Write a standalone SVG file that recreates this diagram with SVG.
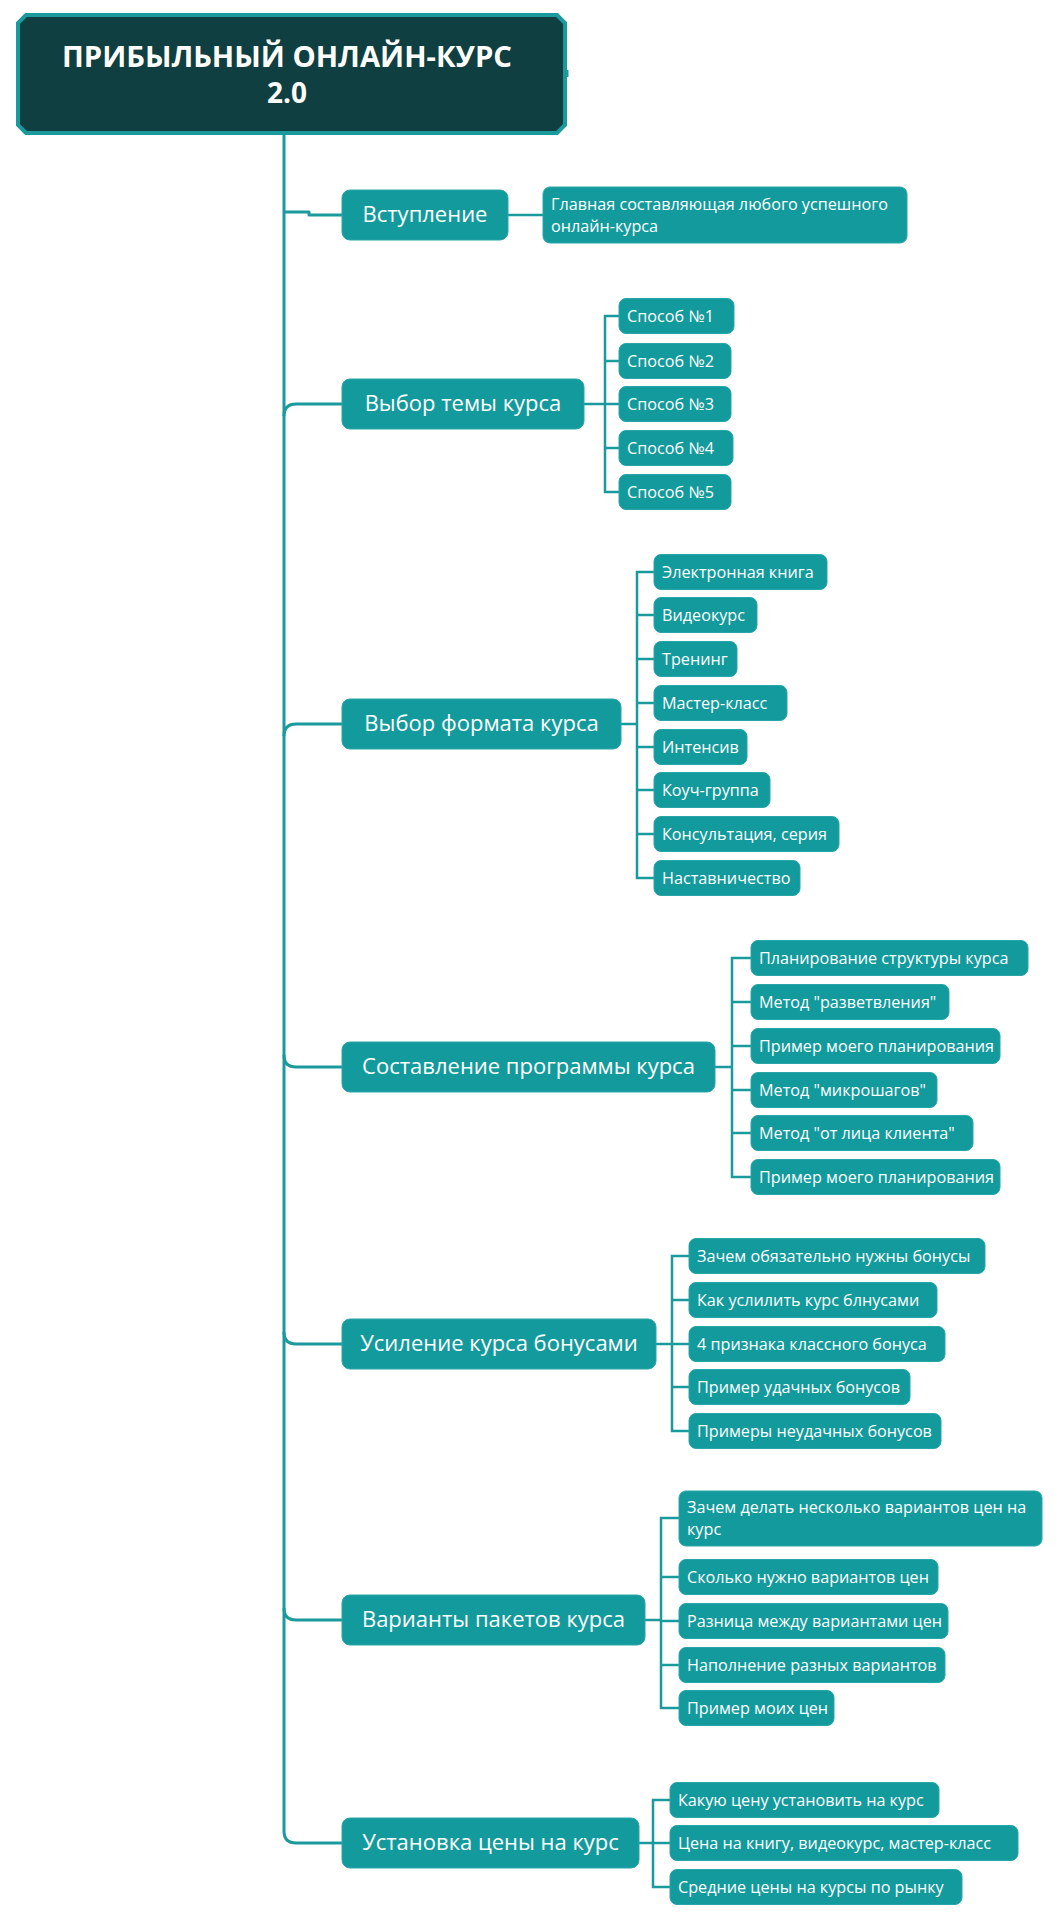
<svg xmlns="http://www.w3.org/2000/svg" width="1058" height="1920" viewBox="0 0 1058 1920">
<style>
.bg{fill:#ffffff}
.title{fill:#0f3f41;stroke:#1a9a9c;stroke-width:4}
.tt{font-family:"Open Sans","Liberation Sans",sans-serif;font-weight:700;font-size:28px;fill:#ffffff;text-anchor:middle}
.b1{fill:#139a9d;stroke:#2aa6a8;stroke-width:1}
.b2{fill:#139a9d;stroke:#2aa6a8;stroke-width:1}
.t1{font-family:"Open Sans","Liberation Sans",sans-serif;font-size:22px;font-weight:500;fill:#ffffff;text-anchor:middle}
.t2{font-family:"Open Sans","Liberation Sans",sans-serif;font-size:16.2px;font-weight:500;fill:#ffffff}
.spine{fill:none;stroke:#1a9a9c;stroke-width:3;stroke-linejoin:round}
.sub{fill:none;stroke:#1a9a9c;stroke-width:2.5;stroke-linejoin:miter}
</style>
<rect class="bg" x="0" y="0" width="1058" height="1920"/>

<g id="connectors">
  <path class="spine" d="M284,133 V1831 Q284,1843 296,1843 H342"/>
  <path class="spine" d="M284,212 H309 V215 H342"/>
  <path class="spine" d="M284,416 Q284,404 296,404 H342"/>
  <path class="spine" d="M284,736 Q284,724 296,724 H342"/>
  <path class="spine" d="M284,1055 Q284,1067 296,1067 H342"/>
  <path class="spine" d="M284,1332 Q284,1344 296,1344 H342"/>
  <path class="spine" d="M284,1608 Q284,1620 296,1620 H342"/>
  <path class="sub" d="M508,215 H543"/>
  <path class="sub" d="M584,404 H605 M619,316 H605 V492 H619 M605,361 H619 M605,404 H619 M605,448 H619"/>
  <path class="sub" d="M621,724 H637 M654,572 H637 V878 H654 M637,615 H654 M637,659 H654 M637,703 H654 M637,747 H654 M637,790 H654 M637,834 H654"/>
  <path class="sub" d="M715,1067 H732 M751,958 H732 V1177 H751 M732,1002 H751 M732,1046 H751 M732,1090 H751 M732,1133 H751"/>
  <path class="sub" d="M656,1344 H672 M689,1256 H672 V1431 H689 M672,1300 H689 M672,1344 H689 M672,1387 H689"/>
  <path class="sub" d="M645,1620 H661 M679,1518 H661 V1708 H679 M661,1577 H679 M661,1621 H679 M661,1665 H679"/>
  <path class="sub" d="M639,1843 H653 M670,1800 H653 V1887 H670 M653,1843 H670"/>
</g>

<g id="root">
  <path class="title" d="M26,15 H557 L565,23 V125 L557,133 H26 L18,125 V23 Z"/>
  <path d="M567,70 V77" stroke="#1a9a9c" stroke-width="3"/>
  <text class="tt" x="287" y="67" textLength="450" lengthAdjust="spacingAndGlyphs">ПРИБЫЛЬНЫЙ ОНЛАЙН-КУРС</text>
  <text class="tt" x="287" y="103">2.0</text>
</g>

<g id="n1">
  <rect class="b1" x="342" y="190" width="166" height="50" rx="8"/>
  <text class="t1" x="425" y="222">Вступление</text>
</g>
<g id="n1-1">
  <rect class="b2" x="543" y="187" width="364" height="56" rx="7"/>
  <text class="t2" x="551" y="210">Главная составляющая любого успешного</text>
  <text class="t2" x="551" y="232">онлайн-курса</text>
</g>

<g id="n2">
  <rect class="b1" x="342" y="379" width="242" height="50" rx="8"/>
  <text class="t1" x="463" y="411">Выбор темы курса</text>
</g>
<g id="n2-1"><rect class="b2" x="619" y="298.5" width="115" height="35" rx="7"/><text class="t2" x="627" y="322">Способ №1</text></g>
<g id="n2-2"><rect class="b2" x="619" y="343.5" width="112" height="35" rx="7"/><text class="t2" x="627" y="367">Способ №2</text></g>
<g id="n2-3"><rect class="b2" x="619" y="386.5" width="112" height="35" rx="7"/><text class="t2" x="627" y="410">Способ №3</text></g>
<g id="n2-4"><rect class="b2" x="619" y="430.5" width="114" height="35" rx="7"/><text class="t2" x="627" y="454">Способ №4</text></g>
<g id="n2-5"><rect class="b2" x="619" y="474.5" width="112" height="35" rx="7"/><text class="t2" x="627" y="498">Способ №5</text></g>

<g id="n3">
  <rect class="b1" x="342" y="699" width="279" height="50" rx="8"/>
  <text class="t1" x="481.5" y="731">Выбор формата курса</text>
</g>
<g id="n3-1"><rect class="b2" x="654" y="554.5" width="173" height="35" rx="7"/><text class="t2" x="662" y="578">Электронная книга</text></g>
<g id="n3-2"><rect class="b2" x="654" y="597.5" width="103" height="35" rx="7"/><text class="t2" x="662" y="621">Видеокурс</text></g>
<g id="n3-3"><rect class="b2" x="654" y="641.5" width="83" height="35" rx="7"/><text class="t2" x="662" y="665">Тренинг</text></g>
<g id="n3-4"><rect class="b2" x="654" y="685.5" width="133" height="35" rx="7"/><text class="t2" x="662" y="709">Мастер-класс</text></g>
<g id="n3-5"><rect class="b2" x="654" y="729.5" width="93" height="35" rx="7"/><text class="t2" x="662" y="753">Интенсив</text></g>
<g id="n3-6"><rect class="b2" x="654" y="772.5" width="116" height="35" rx="7"/><text class="t2" x="662" y="796">Коуч-группа</text></g>
<g id="n3-7"><rect class="b2" x="654" y="816.5" width="185" height="35" rx="7"/><text class="t2" x="662" y="840">Консультация, серия</text></g>
<g id="n3-8"><rect class="b2" x="654" y="860.5" width="146" height="35" rx="7"/><text class="t2" x="662" y="884">Наставничество</text></g>

<g id="n4">
  <rect class="b1" x="342" y="1042" width="373" height="50" rx="8"/>
  <text class="t1" x="528.5" y="1074">Составление программы курса</text>
</g>
<g id="n4-1"><rect class="b2" x="751" y="940.5" width="277" height="35" rx="7"/><text class="t2" x="759" y="964">Планирование структуры курса</text></g>
<g id="n4-2"><rect class="b2" x="751" y="984.5" width="198" height="35" rx="7"/><text class="t2" x="759" y="1008">Метод "разветвления"</text></g>
<g id="n4-3"><rect class="b2" x="751" y="1028.5" width="249" height="35" rx="7"/><text class="t2" x="759" y="1052">Пример моего планирования</text></g>
<g id="n4-4"><rect class="b2" x="751" y="1072.5" width="186" height="35" rx="7"/><text class="t2" x="759" y="1096">Метод "микрошагов"</text></g>
<g id="n4-5"><rect class="b2" x="751" y="1115.5" width="222" height="35" rx="7"/><text class="t2" x="759" y="1139">Метод "от лица клиента"</text></g>
<g id="n4-6"><rect class="b2" x="751" y="1159.5" width="249" height="35" rx="7"/><text class="t2" x="759" y="1183">Пример моего планирования</text></g>

<g id="n5">
  <rect class="b1" x="342" y="1319" width="314" height="50" rx="8"/>
  <text class="t1" x="499" y="1351">Усиление курса бонусами</text>
</g>
<g id="n5-1"><rect class="b2" x="689" y="1238.5" width="296" height="35" rx="7"/><text class="t2" x="697" y="1262">Зачем обязательно нужны бонусы</text></g>
<g id="n5-2"><rect class="b2" x="689" y="1282.5" width="248" height="35" rx="7"/><text class="t2" x="697" y="1306">Как услилить курс блнусами</text></g>
<g id="n5-3"><rect class="b2" x="689" y="1326.5" width="256" height="35" rx="7"/><text class="t2" x="697" y="1350">4 признака классного бонуса</text></g>
<g id="n5-4"><rect class="b2" x="689" y="1369.5" width="221" height="35" rx="7"/><text class="t2" x="697" y="1393">Пример удачных бонусов</text></g>
<g id="n5-5"><rect class="b2" x="689" y="1413.5" width="252" height="35" rx="7"/><text class="t2" x="697" y="1437">Примеры неудачных бонусов</text></g>

<g id="n6">
  <rect class="b1" x="342" y="1595" width="303" height="50" rx="8"/>
  <text class="t1" x="493.5" y="1627">Варианты пакетов курса</text>
</g>
<g id="n6-1"><rect class="b2" x="679" y="1491" width="363" height="55" rx="7"/><text class="t2" x="687" y="1513">Зачем делать несколько вариантов цен на</text><text class="t2" x="687" y="1535">курс</text></g>
<g id="n6-2"><rect class="b2" x="679" y="1559.5" width="259" height="35" rx="7"/><text class="t2" x="687" y="1583">Сколько нужно вариантов цен</text></g>
<g id="n6-3"><rect class="b2" x="679" y="1603.5" width="269" height="35" rx="7"/><text class="t2" x="687" y="1627">Разница между вариантами цен</text></g>
<g id="n6-4"><rect class="b2" x="679" y="1647.5" width="266" height="35" rx="7"/><text class="t2" x="687" y="1671">Наполнение разных вариантов</text></g>
<g id="n6-5"><rect class="b2" x="679" y="1690.5" width="155" height="35" rx="7"/><text class="t2" x="687" y="1714">Пример моих цен</text></g>

<g id="n7">
  <rect class="b1" x="342" y="1818" width="297" height="50" rx="8"/>
  <text class="t1" x="490.5" y="1850">Установка цены на курс</text>
</g>
<g id="n7-1"><rect class="b2" x="670" y="1782.5" width="269" height="35" rx="7"/><text class="t2" x="678" y="1806">Какую цену установить на курс</text></g>
<g id="n7-2"><rect class="b2" x="670" y="1825.5" width="348" height="35" rx="7"/><text class="t2" x="678" y="1849">Цена на книгу, видеокурс, мастер-класс</text></g>
<g id="n7-3"><rect class="b2" x="670" y="1869.5" width="292" height="35" rx="7"/><text class="t2" x="678" y="1893">Средние цены на курсы по рынку</text></g>
</svg>
